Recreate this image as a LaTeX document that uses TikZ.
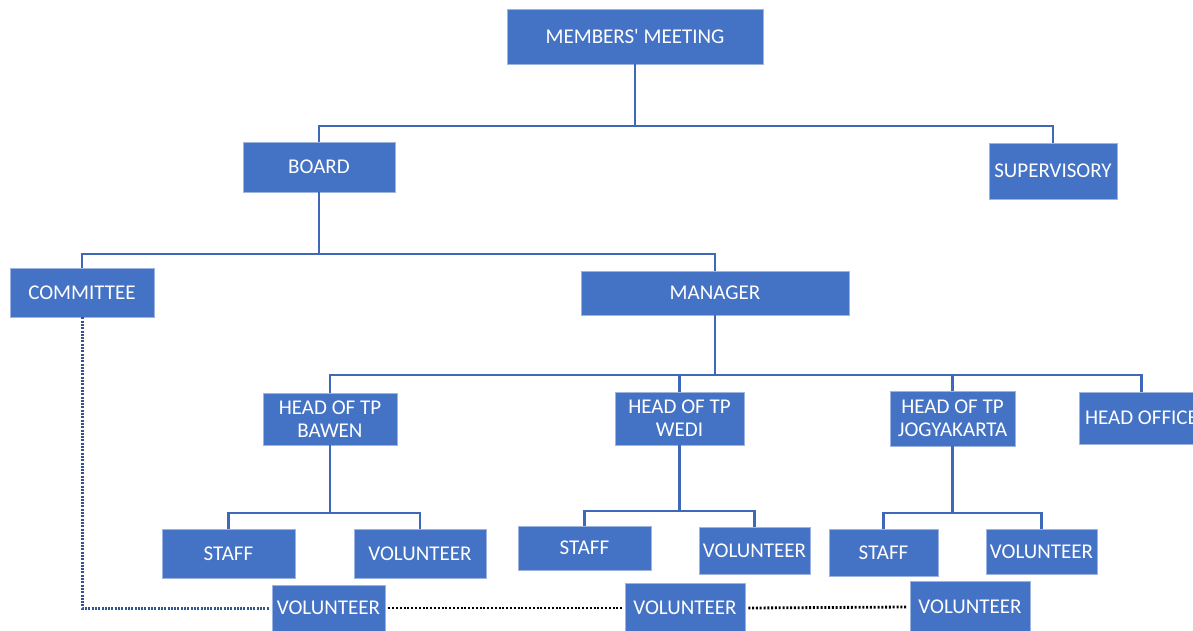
\documentclass[tikz,border=0pt]{standalone}
\usepackage{fontspec}
\setmainfont{Carlito}
\newfontfamily\plainfont{Carlito}
\definecolor{boxfill}{HTML}{4472C4}
\definecolor{boxedge}{HTML}{9DB4E0}
\definecolor{linkblue}{HTML}{4068B8}
\definecolor{dotblue}{HTML}{2F5597}
\tikzset{
  unit/.style={rectangle, fill=boxfill, draw=boxedge, line width=0.6pt, text=white,
    inner sep=0pt, align=center, font=\plainfont\fontsize{21}{23}\selectfont},
  link/.style={draw=linkblue, line width=2.4pt},
  dotlinkblue/.style={draw=dotblue, line width=3pt, dash pattern=on 2pt off 1.3pt},
  dotlinkblack/.style={draw=black, line width=2.8pt, dash pattern=on 2pt off 1.8pt}
}
\begin{document}
\begin{tikzpicture}[x=1pt,y=-1pt]
\useasboundingbox (0,0) rectangle (1193,631);
\clip (0,0) rectangle (1193,631);
\fill[white] (0,0) rectangle (1193,631);

% bus levels
\coordinate (y1) at (0,126);
\coordinate (y2) at (0,254);
\coordinate (y3) at (0,375);
\coordinate (yb) at (0,513);
\coordinate (yw) at (0,511);
\coordinate (yj) at (0,513);

% nodes
\node[unit, minimum width=256, minimum height=55] (mm) at (635,36.5) {MEMBERS' MEETING};
\node[unit, minimum width=152, minimum height=50] (board) at (319,167) {BOARD};
\node[unit, minimum width=128, minimum height=56] (sup) at (1053,171) {SUPERVISORY};
\node[unit, minimum width=144, minimum height=49] (comm) at (82,292.5) {COMMITTEE};
\node[unit, minimum width=268, minimum height=44] (mgr) at (715,293) {MANAGER};
\node[unit, minimum width=134, minimum height=52] (hb) at (330,419) {HEAD OF TP\\BAWEN};
\node[unit, minimum width=129, minimum height=53] (hw) at (679.5,418.5) {HEAD OF TP\\WEDI};
\node[unit, minimum width=125, minimum height=55] (hj) at (952.5,418.5) {HEAD OF TP\\JOGYAKARTA};
\node[unit, minimum width=125, minimum height=52] (ho) at (1141.5,418) {HEAD OFFICE};
\node[unit, minimum width=133, minimum height=49] (sb) at (228.5,553.5) {STAFF};
\node[unit, minimum width=132, minimum height=49] (vb) at (420,553.5) {VOLUNTEER};
\node[unit, minimum width=133, minimum height=44] (sw) at (584.5,548) {STAFF};
\node[unit, minimum width=111, minimum height=47] (vw) at (754.5,550.5) {VOLUNTEER};
\node[unit, minimum width=109, minimum height=47] (sj) at (883.5,552.5) {STAFF};
\node[unit, minimum width=111, minimum height=45] (vj) at (1041.5,551.5) {VOLUNTEER};
\node[unit, minimum width=113, minimum height=46] (v1) at (328.5,608) {VOLUNTEER};
\node[unit, minimum width=120, minimum height=50] (v2) at (685,608) {VOLUNTEER};
\node[unit, minimum width=120, minimum height=52] (v3) at (970,607) {VOLUNTEER};

% solid connectors
\draw[link] (mm.south) -- (mm.south |- y1) -| (board.north);
\draw[link] (mm.south |- y1) -| (sup.north);
\draw[link] (board.south) -- (board.south |- y2) -| (comm.north);
\draw[link] (board.south |- y2) -| (mgr.north);
\draw[link] (mgr.south) -- (mgr.south |- y3) -| (hb.north);
\draw[link] (mgr.south |- y3) -| (hw.north);
\draw[link] (mgr.south |- y3) -| (hj.north);
\draw[link] (mgr.south |- y3) -| (ho.north);
\draw[link] (hb.south) -- (hb.south |- yb) -| (sb.north);
\draw[link] (hb.south |- yb) -| (vb.north);
\draw[link] (hw.south) -- (hw.south |- yw) -| (sw.north);
\draw[link] (hw.south |- yw) -| (vw.north);
\draw[link] (hj.south) -- (hj.south |- yj) -| (sj.north);
\draw[link] (hj.south |- yj) -| (vj.north);

% dotted connectors
\draw[dotlinkblue] (comm.south) |- ([xshift=-2pt]v1.west);
\draw[dotlinkblack] ([xshift=3pt]v1.east) -- ([xshift=-3pt]v2.west);
\draw[dotlinkblack] ([xshift=3pt]v2.east) -- ([xshift=-3pt]v3.west);
\end{tikzpicture}
\end{document}
